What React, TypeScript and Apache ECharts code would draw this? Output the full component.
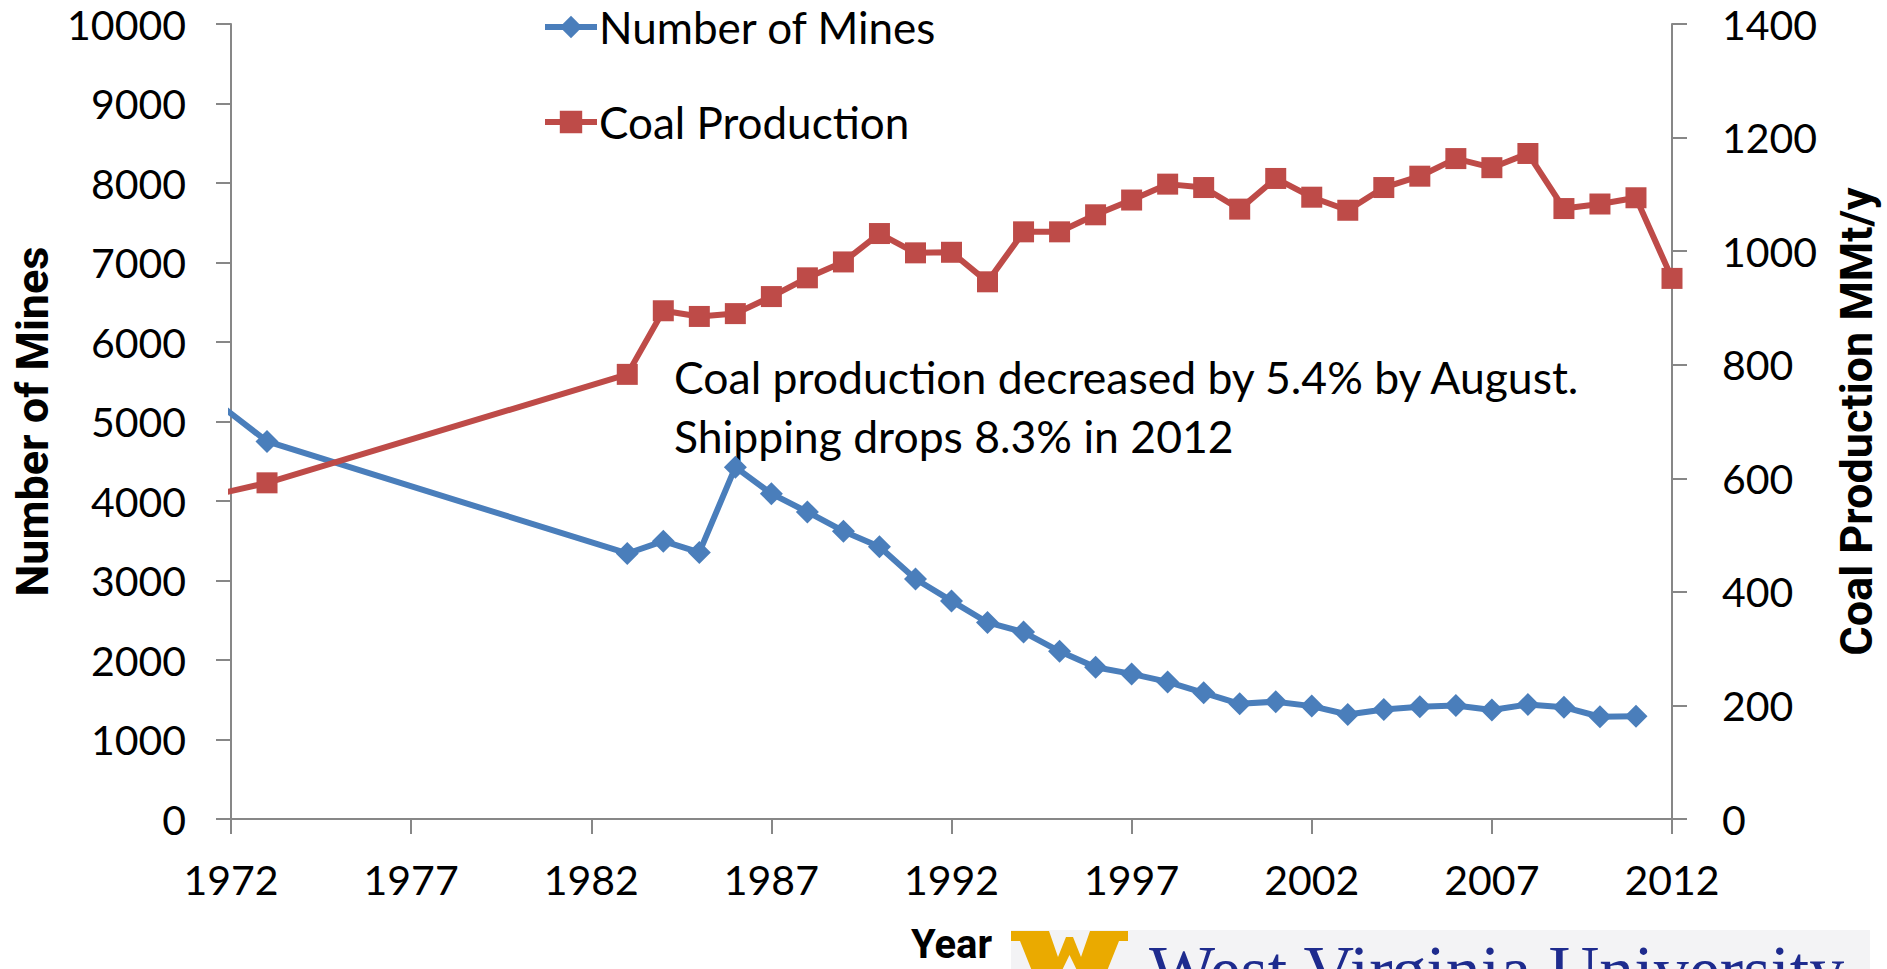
import React, { useEffect, useRef } from "react";
import * as echarts from "echarts";

// ---- data ----
const mineYears = [1971, 1973, 1983, 1984, 1985, 1986, 1987, 1988, 1989, 1990, 1991, 1992, 1993, 1994, 1995, 1996, 1997, 1998, 1999, 2000, 2001, 2002, 2003, 2004, 2005, 2006, 2007, 2008, 2009, 2010, 2011];
const numberOfMines = [5450, 4750, 3340, 3495, 3353, 4426, 4092, 3862, 3620, 3424, 3019, 2743, 2472, 2351, 2109, 1908, 1825, 1724, 1587, 1449, 1476, 1420, 1315, 1378, 1411, 1428, 1370, 1440, 1407, 1286, 1294];

const prodYears = [1971, 1973, 1983, 1984, 1985, 1986, 1987, 1988, 1989, 1990, 1991, 1992, 1993, 1994, 1995, 1996, 1997, 1998, 1999, 2000, 2001, 2002, 2003, 2004, 2005, 2006, 2007, 2008, 2009, 2010, 2011, 2012];
const coalProduction = [563, 592, 783, 895, 885, 890, 920, 953, 981, 1031, 997, 998, 946, 1034, 1034, 1064, 1090, 1118, 1112, 1074, 1128, 1095, 1072, 1112, 1132, 1163, 1147, 1172, 1075, 1083, 1094, 952];

const seriesNames = ["Number of Mines", "Coal Production"];
const annotationLines = ["Coal production decreased by 5.4% by August.", "Shipping drops 8.3% in 2012"];
const xAxisTitle = "Year";
const leftAxisTitle = "Number of Mines";
const rightAxisTitle = "Coal Production MMt/y";
const logoText = "West Virginia University";

const BLUE = "#4A7EBB";
const RED = "#BE4B48";
const AXIS = "#878787";

export default function App() {
  const ref = useRef<HTMLDivElement>(null);

  useEffect(() => {
    if (!ref.current) return;
    const chart = echarts.init(ref.current, undefined, { renderer: "svg" });
    const plain = (v: number) => String(v);
    const axisLine = { show: true, lineStyle: { color: AXIS, width: 2 } };
    const axisTick = { show: true, inside: false, length: 15, lineStyle: { color: AXIS, width: 2 } };
    const labelStyle = { color: "#000", fontFamily: "Lato", fontSize: 41 };
    const titleStyle = { color: "#000", fontFamily: "Roboto", fontWeight: "bold" as const, fontSize: 45 };

    chart.setOption({
      animation: false,
      backgroundColor: "#ffffff",
      textStyle: { fontFamily: "Lato" },
      grid: { left: 231, right: 213, top: 24, bottom: 145, containLabel: false },
      legend: {
        orient: "vertical",
        left: 537,
        top: 0,
        itemWidth: 52,
        itemHeight: 28,
        itemGap: 51,
        selectedMode: false,
        data: seriesNames,
        lineStyle: { width: 6 },
        textStyle: { color: "#000", fontFamily: "Lato", fontSize: 44, lineHeight: 44, padding: [0, 0, 0, -3] },
      },
      xAxis: {
        type: "value",
        min: 1972,
        max: 2012,
        interval: 5,
        axisLine,
        axisTick,
        splitLine: { show: false },
        axisLabel: { ...labelStyle, margin: 40, formatter: plain },
        name: xAxisTitle,
        nameLocation: "middle",
        nameGap: 105,
        nameTextStyle: { ...titleStyle, fontSize: 40 },
      },
      yAxis: [
        {
          type: "value",
          position: "left",
          min: 0,
          max: 10000,
          interval: 1000,
          axisLine,
          axisTick,
          splitLine: { show: false },
          axisLabel: { ...labelStyle, margin: 45, formatter: plain },
          name: leftAxisTitle,
          nameLocation: "middle",
          nameGap: 176,
          nameTextStyle: titleStyle,
        },
        {
          type: "value",
          position: "right",
          min: 0,
          max: 1400,
          interval: 200,
          axisLine,
          axisTick,
          splitLine: { show: false },
          axisLabel: { ...labelStyle, margin: 50, formatter: plain },
          name: rightAxisTitle,
          nameLocation: "middle",
          nameGap: 162,
          nameTextStyle: titleStyle,
        },
      ],
      series: [
        {
          name: seriesNames[0],
          type: "line",
          yAxisIndex: 0,
          clip: true,
          symbol: "diamond",
          symbolSize: 23,
          data: mineYears.map((y, i) => [y, numberOfMines[i]]),
          lineStyle: { color: BLUE, width: 6 },
          itemStyle: { color: BLUE },
        },
        {
          name: seriesNames[1],
          type: "line",
          yAxisIndex: 1,
          clip: true,
          symbol: "rect",
          symbolSize: 21,
          data: prodYears.map((y, i) => [y, coalProduction[i]]),
          lineStyle: { color: RED, width: 6 },
          itemStyle: { color: RED },
        },
      ],
      graphic: [
        {
          type: "text",
          left: 674,
          top: 347,
          style: {
            text: annotationLines.join("\n"),
            fontFamily: "Lato",
            fontSize: 44.5,
            lineHeight: 59,
            fill: "#000",
          },
        },
        {
          type: "rect",
          shape: { x: 1011, y: 930, width: 859, height: 45 },
          style: { fill: "#F3F3F5" },
        },
        {
          type: "polygon",
          shape: {
            points: [
              [1011, 931], [1049, 931], [1058, 957], [1066, 937], [1073, 937], [1081, 957], [1090, 931], [1128, 931],
              [1128, 941], [1119, 941], [1099, 991], [1087, 991], [1069.5, 955], [1052, 991], [1040, 991], [1020, 941], [1011, 941],
            ],
          },
          style: { fill: "#EAAA00" },
        },
        {
          type: "text",
          x: 1149,
          y: 970,
          style: {
            text: logoText,
            fontFamily: "Liberation Serif",
            fontSize: 70,
            fill: "#1E2B8E",
            verticalAlign: "middle",
            align: "left",
          },
        },
      ],
    });
    return () => chart.dispose();
  }, []);

  return (
    <div
      ref={ref}
      style={{ position: "fixed", left: 0, top: 0, width: 1887, height: 969, overflow: "hidden", background: "#fff" }}
    />
  );
}
